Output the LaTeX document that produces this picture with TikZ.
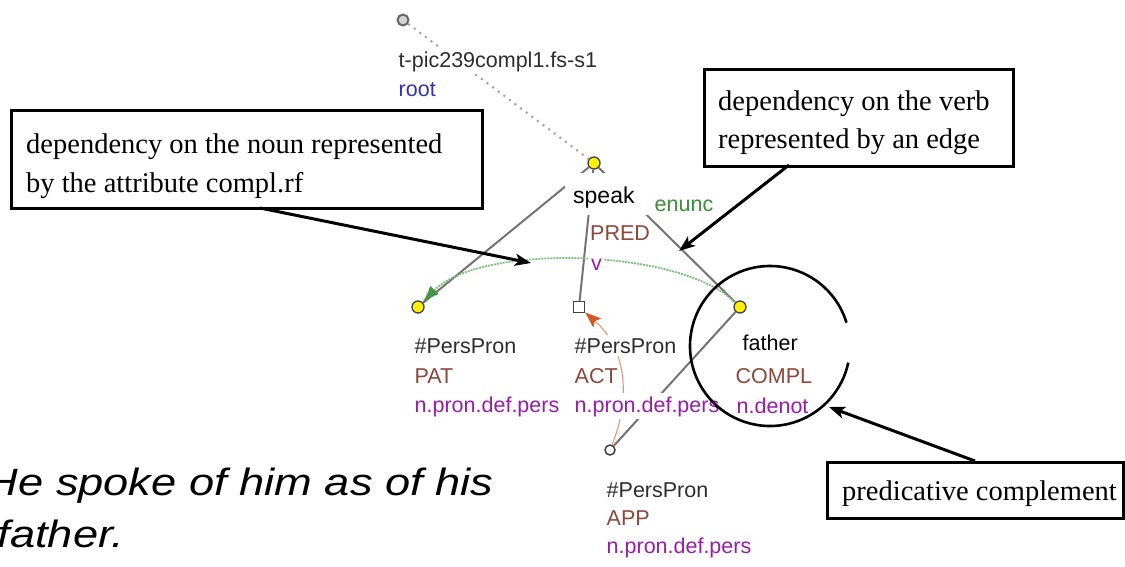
\documentclass[tikz,border=0pt]{standalone}
\usepackage{fontspec}
\setmainfont{Liberation Sans}
\newfontfamily\boxserif{Liberation Serif}
\usetikzlibrary{arrows.meta}
\definecolor{tbrown}{RGB}{140,72,60}
\definecolor{tpurple}{RGB}{150,30,170}
\definecolor{tgreen}{RGB}{60,140,60}
\definecolor{tblue}{RGB}{50,50,170}
\definecolor{tdark}{RGB}{45,45,45}
\definecolor{edgegray}{RGB}{115,115,115}
\definecolor{corefgreen}{RGB}{125,190,125}
\definecolor{corefhead}{RGB}{70,150,70}
\definecolor{orangeline}{RGB}{230,150,120}
\definecolor{orangehead}{RGB}{210,90,40}
\begin{document}
\begin{tikzpicture}[x=1pt,y=-1pt,
  lbl/.style={anchor=base west, fill=white, inner xsep=1.5pt, inner ysep=3pt,
              font=\fontsize{21.5}{21.5}\selectfont},
  yellownode/.style={circle, fill=yellow, draw=black!75, line width=1.3pt, minimum size=12pt, inner sep=0pt},
  rootnode/.style={circle, fill=gray!35, draw=black!60, line width=2pt, minimum size=11pt, inner sep=0pt},
  sqnode/.style={rectangle, fill=white, draw=black!75, line width=1.3pt, minimum size=11pt, inner sep=0pt},
  opennode/.style={circle, fill=white, draw=black!75, line width=1.5pt, minimum size=10pt, inner sep=0pt},
  treeedge/.style={draw=edgegray, line width=2pt},
  rootedge/.style={draw=gray!75, line width=2pt, dash pattern=on 2pt off 5pt},
  calloutbox/.style={draw=black, line width=2.6pt, anchor=north west, inner sep=0pt},
  callouttext/.style={anchor=base west, inner sep=0pt, font=\boxserif\fontsize{28.5}{28.5}\selectfont},
  calloutarrow/.style={draw=black, line width=3pt, -{Stealth[length=16pt,width=12pt,inset=4pt]}}
]
\useasboundingbox (0,0) rectangle (1125,566);

% tree nodes
\node[rootnode] (root) at (403,20) {};
\node[yellownode] (speak) at (594,163) {};
\node[yellownode] (pat) at (418,307) {};
\node[sqnode] (act) at (579,307) {};
\node[yellownode] (father) at (740,307) {};
\node[opennode] (app) at (610,450) {};

% edges
\draw[rootedge] (root) -- (speak);
\draw[treeedge] (speak) -- (pat);
\draw[treeedge] (speak) -- (act);
\draw[treeedge] (speak) -- (father);
\draw[treeedge] (father) -- (app);
\draw[draw=corefgreen, line width=1.8pt, dash pattern=on 2pt off 1pt,
      -{Latex[length=17pt,width=12pt,fill=corefhead,color=corefhead]}]
  (father) .. controls (680,248) and (480,243) .. (pat);
\draw[draw=orangeline, line width=1.1pt,
      -{Stealth[length=16pt,width=12pt,inset=3pt,color=orangehead]}]
  (app) .. controls (630,400) and (628,350) .. (act);

% labels
\node[lbl, text=tdark] (rootid) at (397,67) {t-pic239compl1.fs-s1};
\node[lbl, text=tblue] (rootlab) at (397,96) {root};

\node[lbl, inner xsep=0pt, inner ysep=0pt, text width=86pt, text height=30pt, text depth=12pt,
      font=\fontsize{23}{23}\selectfont] (speaklab) at (565,203) {\hspace*{8pt}speak};
\node[lbl, text=tgreen] (enunc) at (653,211) {enunc};
\node[lbl, text=tbrown, inner xsep=1pt] (pred) at (589,240) {PRED};
\node[lbl, text=tpurple, inner xsep=2pt] (vlab) at (589,270) {v};

\node[lbl, text=tdark] (pat1) at (413,353) {\#PersPron};
\node[lbl, text=tbrown] (pat2) at (413,383) {PAT};
\node[lbl, text=tpurple] (pat3) at (413,412) {n.pron.def.pers};

\node[lbl, text=tdark] (act1) at (573,353) {\#PersPron};
\node[lbl, text=tbrown] (act2) at (573,383) {ACT};
\node[lbl, text=tpurple] (act3) at (573,412) {n.pron.def.pers};

\node[lbl, text=black] (fa1) at (741,350) {father};
\node[lbl, text=tbrown] (fa2) at (734,383) {COMPL};
\node[lbl, text=tpurple] (fa3) at (735,413) {n.denot};

\node[lbl, text=tdark] (app1) at (605,497) {\#PersPron};
\node[lbl, text=tbrown] (app2) at (605,525) {APP};
\node[lbl, text=tpurple] (app3) at (605,553) {n.pron.def.pers};

% sentence (cut at the left edge, as in the reference)
\node[anchor=base west, inner sep=0pt, font=\itshape\fontsize{38}{38}\selectfont] (sent1) at (-14.5,495)
  {\scalebox{1.19}[1]{He spoke of him as of his}};
\node[anchor=base west, inner sep=0pt, font=\itshape\fontsize{38}{38}\selectfont] (sent2) at (-2.5,547)
  {\scalebox{1.19}[1]{father.}};

% focus circle
\coordinate (focus) at (770,346);
\draw[line width=2.6pt] (focus) ++(12:80) arc[start angle=12, end angle=343, radius=80];

% callout boxes
\node[calloutbox, minimum width=471pt, minimum height=98pt] (box1) at (10,109) {};
\node[callouttext] (t1a) at (26,153) {dependency on the noun represented};
\node[callouttext] (t1b) at (26,192) {by the attribute compl.rf};

\node[calloutbox, minimum width=309pt, minimum height=97pt] (box2) at (703,68) {};
\node[callouttext] (t2a) at (718,110) {dependency on the verb};
\node[callouttext] (t2b) at (718,148) {represented by an edge};

\node[calloutbox, minimum width=296pt, minimum height=56pt] (box3) at (826,461) {};
\node[callouttext] (t3) at (842,500) {predicative complement};

% callout arrows
\coordinate (a1s) at (260,208);
\coordinate (a1e) at (531,263);
\coordinate (a2s) at (789,165);
\coordinate (a2e) at (679,251);
\coordinate (a3s) at (975,461);
\coordinate (a3e) at (829,407);
\draw[calloutarrow] (a1s) -- (a1e);
\draw[calloutarrow] (a2s) -- (a2e);
\draw[calloutarrow] (a3s) -- (a3e);
\end{tikzpicture}
\end{document}
